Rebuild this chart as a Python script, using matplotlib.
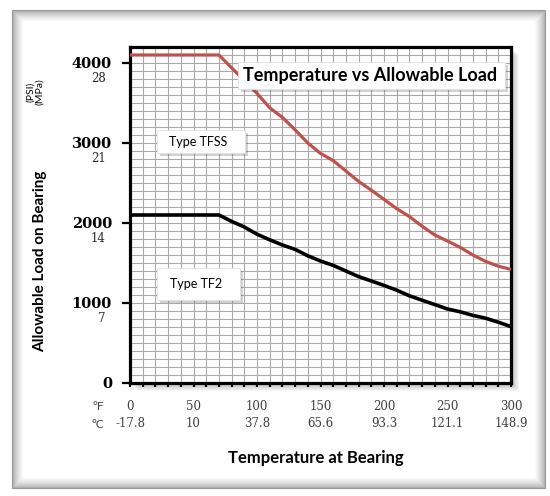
import matplotlib

matplotlib.use("Agg")
import matplotlib.pyplot as plt
import matplotlib.patheffects as pe
from matplotlib.patches import Rectangle

W, H = 550, 496

temps_f = [0, 10, 20, 30, 40, 50, 60, 70, 80, 90, 100, 110, 120, 130, 140, 150,
           160, 170, 180, 190, 200, 210, 220, 230, 240, 250, 260, 270, 280, 290, 300]
tfss_psi = [4100, 4100, 4100, 4100, 4100, 4100, 4100, 4100, 3940, 3780, 3620, 3440,
            3320, 3165, 3000, 2870, 2780, 2650, 2520, 2410, 2295, 2180, 2080, 1960,
            1850, 1775, 1695, 1600, 1520, 1460, 1420]
tf2_psi = [2100, 2100, 2100, 2100, 2100, 2100, 2100, 2100, 2020, 1950, 1860, 1790,
           1725, 1670, 1590, 1525, 1470, 1400, 1330, 1275, 1220, 1160, 1090, 1035,
           980, 925, 890, 845, 810, 760, 705]

psi_ticks = [0, 1000, 2000, 3000, 4000]
psi_labels = ["0", "1000", "2000", "3000", "4000"]
mpa_labels = ["", "7", "14", "21", "28"]
f_ticks = [0, 50, 100, 150, 200, 250, 300]
c_labels = ["-17.8", "10", "37.8", "65.6", "93.3", "121.1", "148.9"]

RED = "#c0504d"
SANS = ["Lato", "DejaVu Sans"]
SERIF = ["DejaVu Serif"]


def fx(px):
    return px / W


def fy(py):
    return 1 - py / H


def px_rect(x0, y0, x1, y1, **kw):
    return Rectangle((fx(x0), fy(y1)), fx(x1) - fx(x0), fy(y0) - fy(y1),
                     transform=fig.transFigure, **kw)


fig = plt.figure(figsize=(W / 100, H / 100), dpi=100)
fig.patch.set_facecolor("white")

# outer frame with a soft grey edge
for i in range(12):
    shade = 0.6 + 0.4 * (i / 11) ** 0.6
    fig.patches.append(px_rect(12 + i, 10 + i, 545 - i, 488 - i, fill=False,
                               edgecolor=(shade, shade, shade), linewidth=0.8,
                               zorder=-3))

# shadow behind plot area
for k in range(1, 9):
    fig.patches.append(px_rect(130 + k, 47 + k, 511 + k, 383 + k, facecolor="black",
                               edgecolor="none", alpha=0.035, zorder=-2))

ax = fig.add_axes([fx(130), fy(383), fx(511) - fx(130), fy(47) - fy(383)])
ax.set_xlim(0, 300)
ax.set_ylim(0, 4200)

ax.set_xticks(range(0, 301, 10))
ax.set_xticklabels([])
ax.set_yticks(psi_ticks)
ax.set_yticklabels(psi_labels, fontfamily=SERIF, fontweight="bold", fontsize=10.5)
ax.set_yticks(range(0, 4201, 100), minor=True)
ax.tick_params(axis="x", direction="out", length=3, width=1.6, color="black")
ax.tick_params(axis="y", which="major", direction="out", length=6, width=1.6, pad=7)
ax.tick_params(axis="y", which="minor", length=0)
ax.grid(True, axis="x", color="#a9a9a9", linewidth=0.8)
ax.grid(True, axis="y", which="both", color="#a9a9a9", linewidth=0.8)
ax.set_axisbelow(True)
for s in ax.spines.values():
    s.set_linewidth(2.3)
    s.set_color("black")

ax.plot(temps_f, tfss_psi, color=RED, linewidth=2.3, solid_capstyle="butt", zorder=3)
ax.plot(temps_f, tf2_psi, color="black", linewidth=2.6, solid_capstyle="butt", zorder=3)

for v, lab in zip(psi_ticks, mpa_labels):
    if lab:
        ax.annotate(lab, xy=(0, v), xycoords=("axes fraction", "data"),
                    xytext=(-17.5, -11.5), textcoords="offset points",
                    ha="right", va="center", fontsize=8.5, fontfamily=SERIF,
                    color="#262626")

for t, c in zip(f_ticks, c_labels):
    ax.annotate(str(t), xy=(t, 0), xycoords=("data", "axes fraction"),
                xytext=(0, -17), textcoords="offset points", ha="center",
                va="center", fontsize=8.5, fontfamily=SERIF, color="#404040",
                annotation_clip=False)
    ax.annotate(c, xy=(t, 0), xycoords=("data", "axes fraction"),
                xytext=(0, -29.5), textcoords="offset points", ha="center",
                va="center", fontsize=8.5, fontfamily=SERIF, color="#404040",
                annotation_clip=False)

fig.text(fx(98), fy(407), "°F", fontsize=8.5, fontfamily=SANS, color="#404040",
         ha="center", va="center")
fig.text(fx(98), fy(424), "°C", fontsize=8.5, fontfamily=SANS, color="#404040",
         ha="center", va="center")

# text boxes with shadow
shadow = [pe.SimplePatchShadow(offset=(2, -2), alpha=0.25), pe.Normal()]
boxes = [
    (238, 62, 505, 89, "Temperature vs Allowable Load", 243, 75.5, "left", 13, "bold"),
    (157, 130, 245, 153, "Type TFSS", 198, 142, "center", 9, "normal"),
    (157, 268, 240, 300, "Type TF2", 196, 284, "center", 9, "normal"),
]
for x0, y0, x1, y1, txt, tx, ty, ha, size, weight in boxes:
    r = px_rect(x0, y0, x1, y1, facecolor="white", edgecolor="#e0e0e0",
                linewidth=0.6, zorder=4)
    r.set_path_effects(shadow)
    fig.patches.append(r)
    fig.text(fx(tx), fy(ty), txt, fontsize=size, fontweight=weight,
             fontfamily=SANS, ha=ha, va="center", color="black", zorder=5)

fig.text(fx(40), fy(261), "Allowable Load on Bearing", rotation=90, fontsize=11,
         fontweight="bold", fontfamily=SANS, ha="center", va="center")
fig.text(fx(31), fy(92), "(PSI)", rotation=90, fontsize=7.5, fontfamily=SANS,
         ha="center", va="center")
fig.text(fx(40), fy(92), "(MPa)", rotation=90, fontsize=7.5, fontfamily=SANS,
         ha="center", va="center")
fig.text(fx(316), fy(458), "Temperature at Bearing", fontsize=12,
         fontweight="bold", fontfamily=SANS, ha="center", va="center")

fig.savefig("out.png", dpi=100)
